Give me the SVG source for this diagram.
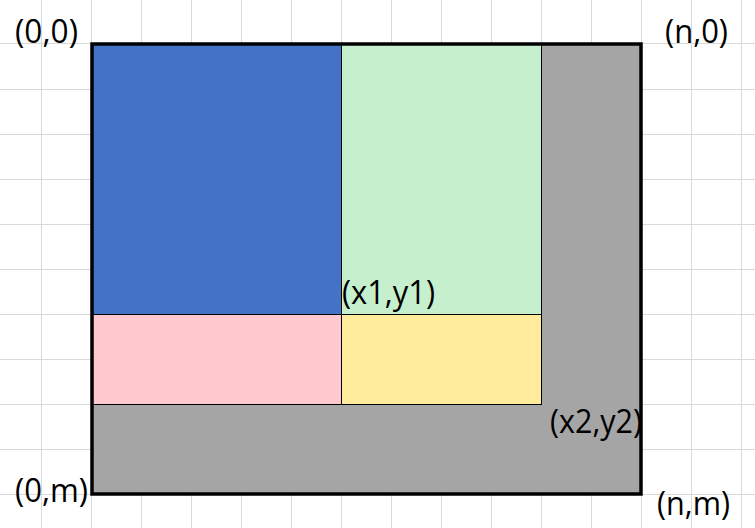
<svg xmlns="http://www.w3.org/2000/svg" width="755" height="528" viewBox="0 0 755 528">
<style>
.grid line{stroke:#D9D9D9;stroke-width:1}
.cell{stroke:#000;stroke-width:1}
.lbl{font-family:"Open Sans","Liberation Sans",sans-serif;font-size:32px;fill:#000}
</style>
<rect width="755" height="528" fill="#fff"/>
<g class="grid">
<line x1="41.5" y1="0" x2="41.5" y2="528"/><line x1="91.5" y1="0" x2="91.5" y2="528"/><line x1="141.5" y1="0" x2="141.5" y2="528"/><line x1="191.5" y1="0" x2="191.5" y2="528"/><line x1="241.5" y1="0" x2="241.5" y2="528"/><line x1="291.5" y1="0" x2="291.5" y2="528"/><line x1="341.5" y1="0" x2="341.5" y2="528"/><line x1="391.5" y1="0" x2="391.5" y2="528"/><line x1="441.5" y1="0" x2="441.5" y2="528"/><line x1="491.5" y1="0" x2="491.5" y2="528"/><line x1="541.5" y1="0" x2="541.5" y2="528"/><line x1="591.5" y1="0" x2="591.5" y2="528"/><line x1="641.5" y1="0" x2="641.5" y2="528"/><line x1="691.5" y1="0" x2="691.5" y2="528"/><line x1="741.5" y1="0" x2="741.5" y2="528"/>
<line x1="0" y1="43.5" x2="755" y2="43.5"/><line x1="0" y1="89.5" x2="755" y2="89.5"/><line x1="0" y1="134.5" x2="755" y2="134.5"/><line x1="0" y1="179.5" x2="755" y2="179.5"/><line x1="0" y1="224.5" x2="755" y2="224.5"/><line x1="0" y1="269.5" x2="755" y2="269.5"/><line x1="0" y1="314.5" x2="755" y2="314.5"/><line x1="0" y1="359.5" x2="755" y2="359.5"/><line x1="0" y1="404.5" x2="755" y2="404.5"/><line x1="0" y1="449.5" x2="755" y2="449.5"/><line x1="0" y1="494.5" x2="755" y2="494.5"/>
</g>
<g id="outer"><rect x="92" y="44" width="549" height="450" fill="#A5A5A5"/></g>
<g id="blue"><rect class="cell" x="92" y="44" width="249.5" height="270.5" fill="#4472C4"/></g>
<g id="green"><rect class="cell" x="341.5" y="44" width="200" height="270.5" fill="#C6EFCE"/></g>
<g id="pink"><rect class="cell" x="92" y="314.5" width="249.5" height="90" fill="#FFC7CE"/></g>
<g id="yellow"><rect class="cell" x="341.5" y="314.5" width="200" height="90" fill="#FFEB9C"/></g>
<g id="border"><rect x="92" y="44" width="549" height="450" fill="none" stroke="#000" stroke-width="3.5"/></g>
<g id="labels">
<text class="lbl" x="15" y="43" textLength="63" lengthAdjust="spacingAndGlyphs">(0,0)</text>
<text class="lbl" x="665" y="43" textLength="63" lengthAdjust="spacingAndGlyphs">(n,0)</text>
<text class="lbl" x="342" y="304" textLength="93" lengthAdjust="spacingAndGlyphs">(x1,y1)</text>
<text class="lbl" x="550" y="433" textLength="92" lengthAdjust="spacingAndGlyphs">(x2,y2)</text>
<text class="lbl" x="15" y="502" textLength="73" lengthAdjust="spacingAndGlyphs">(0,m)</text>
<text class="lbl" x="657" y="515" textLength="73" lengthAdjust="spacingAndGlyphs">(n,m)</text>
</g>
</svg>
